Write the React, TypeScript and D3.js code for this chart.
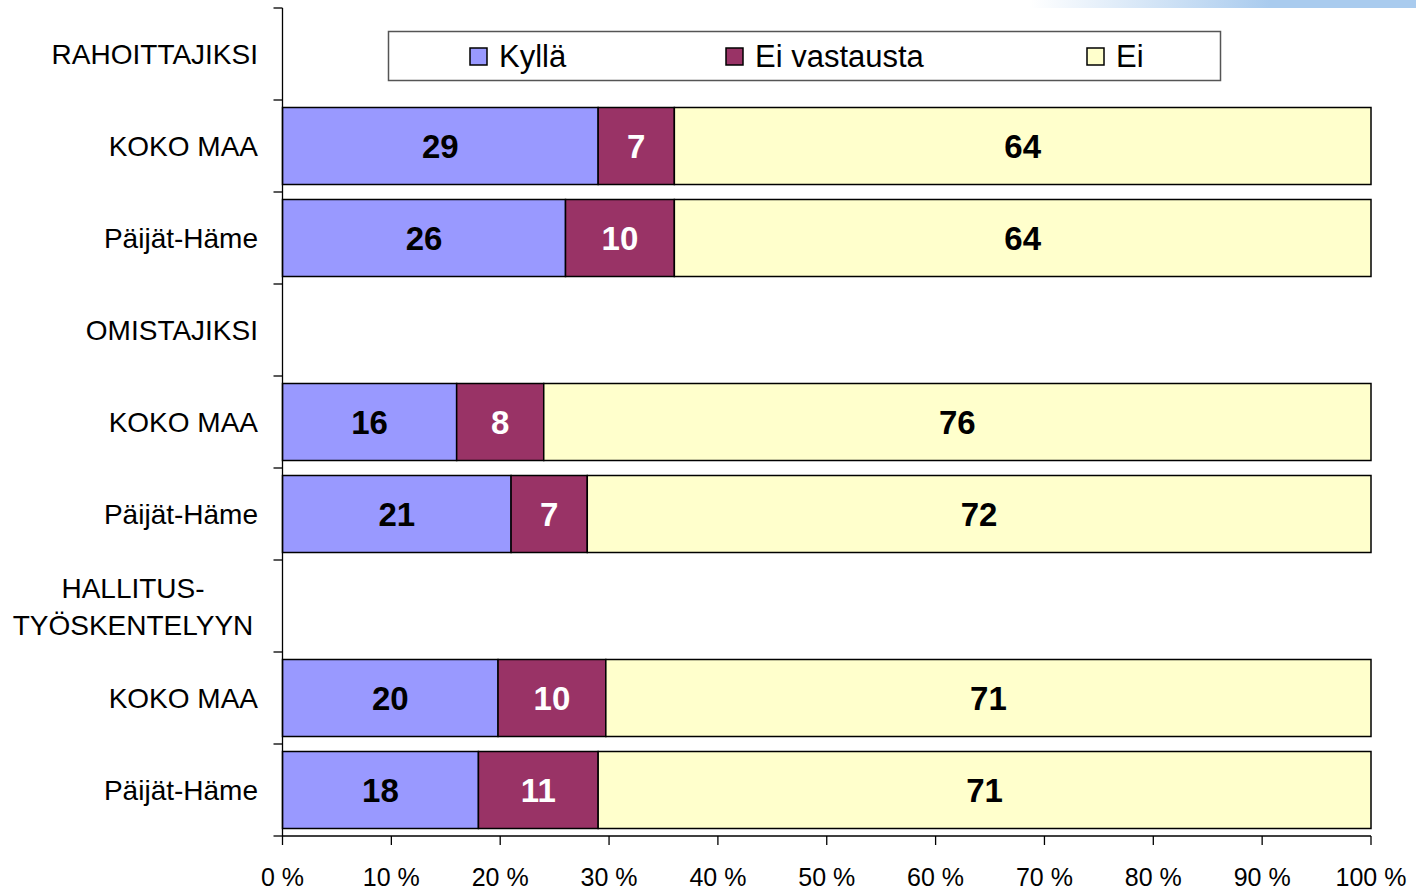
import { useRef, useEffect } from 'react';
import * as d3 from 'd3';

// rows top to bottom; header rows have no values
const rowLabels = [
    'RAHOITTAJIKSI', 'KOKO MAA', 'Päijät-Häme',
    'OMISTAJIKSI', 'KOKO MAA', 'Päijät-Häme',
    'HALLITUS-\nTYÖSKENTELYYN', 'KOKO MAA', 'Päijät-Häme',
];
const isHeader = [true, false, false, true, false, false, true, false, false];

const seriesNames = ['Kyllä', 'Ei vastausta', 'Ei'];
const kylla = [0, 29, 26, 0, 16, 21, 0, 20, 18];
const eiVastausta = [0, 7, 10, 0, 8, 7, 0, 10, 11];
const ei = [0, 64, 64, 0, 76, 72, 0, 71, 71];

const xTicks = [0, 10, 20, 30, 40, 50, 60, 70, 80, 90, 100];

const colors = ['#9999ff', '#993366', '#ffffcc'];
const labelColors = ['#000', '#fff', '#000'];

export default function App() {
    const svgRef = useRef<SVGSVGElement>(null);

    useEffect(() => {
        if (!svgRef.current) return;
        document.body.style.margin = '0';

        const width = 1416;
        const height = 890;
        const left = 282.5;
        const right = 1371;
        const top = 8;
        const bottom = 836;

        const svg = d3.select(svgRef.current);
        svg.selectAll('*').remove();
        svg.attr('width', width).attr('height', height);

        // faint gradient strip at top right
        const defs = svg.append('defs');
        const grad = defs.append('linearGradient')
            .attr('id', 'top-strip')
            .attr('gradientUnits', 'userSpaceOnUse')
            .attr('x1', 1030).attr('x2', 1270).attr('y1', 0).attr('y2', 0);
        grad.append('stop').attr('offset', '0%').attr('stop-color', '#ffffff');
        grad.append('stop').attr('offset', '100%').attr('stop-color', '#a9cbee');
        svg.append('rect')
            .attr('x', 1000).attr('y', 0)
            .attr('width', 416).attr('height', 8)
            .attr('fill', 'url(#top-strip)');

        const idx = rowLabels.map((_, i) => String(i));
        const y = d3.scaleBand()
            .domain(idx)
            .range([top, bottom])
            .paddingInner(0.163)
            .paddingOuter(0.0815);

        const x = d3.scaleLinear().domain([0, 100]).range([left, right]);

        const series = [kylla, eiVastausta, ei];
        const rows = idx.map((k, i) => {
            const vals = series.map(s => s[i]);
            const total = d3.sum(vals);
            let acc = 0;
            const segs = vals.map((v, j) => {
                const x0 = total ? acc / total * 100 : 0;
                acc += v;
                const x1 = total ? acc / total * 100 : 0;
                return { key: k, j, v, x0, x1 };
            });
            return { key: k, header: isHeader[i], segs };
        }).filter(r => !r.header);

        const g = svg.append('g');

        rows.forEach(r => {
            const y0 = y(r.key) ?? 0;
            const bw = y.bandwidth();
            const sg = g.append('g');
            sg.selectAll('rect')
                .data(r.segs)
                .enter()
                .append('rect')
                .attr('x', d => x(d.x0))
                .attr('y', y0)
                .attr('width', d => x(d.x1) - x(d.x0))
                .attr('height', bw)
                .attr('fill', d => colors[d.j])
                .attr('stroke', '#000')
                .attr('stroke-width', 1.5);

            sg.selectAll('text')
                .data(r.segs)
                .enter()
                .append('text')
                .attr('x', d => (x(d.x0) + x(d.x1)) / 2)
                .attr('y', y0 + bw / 2 + 12)
                .attr('text-anchor', 'middle')
                .attr('font-family', 'Liberation Sans, Arial, sans-serif')
                .attr('font-size', '33px')
                .attr('font-weight', 'bold')
                .attr('fill', d => labelColors[d.j])
                .text(d => d.v);
        });

        // Y axis
        g.append('line')
            .attr('x1', left).attr('x2', left)
            .attr('y1', top).attr('y2', bottom)
            .attr('stroke', '#000').attr('stroke-width', 1.3);
        const yBounds = idx.map(k => (y(k) ?? 0) - y.step() * y.paddingInner() / 2).concat([bottom]);
        yBounds[0] = top;
        g.selectAll('line.ytick')
            .data(yBounds)
            .enter()
            .append('line')
            .attr('class', 'ytick')
            .attr('x1', left - 9).attr('x2', left)
            .attr('y1', d => d).attr('y2', d => d)
            .attr('stroke', '#000').attr('stroke-width', 1.3);

        // category labels
        idx.forEach((k, i) => {
            const cy = (y(k) ?? 0) + y.bandwidth() / 2;
            const lines = rowLabels[i].split('\n');
            const multi = lines.length > 1;
            const t = g.append('text')
                .attr('font-family', 'Liberation Sans, Arial, sans-serif')
                .attr('font-size', '28px')
                .attr('fill', '#000')
                .attr('text-anchor', multi ? 'middle' : 'end');
            lines.forEach((ln, li) => {
                t.append('tspan')
                    .attr('x', multi ? 133 : 258)
                    .attr('y', cy + 10 + (li - (lines.length - 1) / 2) * 37)
                    .text(ln);
            });
        });

        // X axis
        g.append('line')
            .attr('x1', left).attr('x2', right)
            .attr('y1', bottom).attr('y2', bottom)
            .attr('stroke', '#000').attr('stroke-width', 1.3);
        g.selectAll('line.xtick')
            .data(xTicks)
            .enter()
            .append('line')
            .attr('class', 'xtick')
            .attr('x1', d => x(d)).attr('x2', d => x(d))
            .attr('y1', bottom).attr('y2', bottom + 9)
            .attr('stroke', '#000').attr('stroke-width', 1.3);
        g.selectAll('text.xlabel')
            .data(xTicks)
            .enter()
            .append('text')
            .attr('class', 'xlabel')
            .attr('x', d => x(d))
            .attr('y', 886)
            .attr('text-anchor', 'middle')
            .attr('font-family', 'Liberation Sans, Arial, sans-serif')
            .attr('font-size', '25px')
            .attr('fill', '#000')
            .text(d => `${d} %`);

        // Legend
        const lg = svg.append('g');
        lg.append('rect')
            .attr('x', 388.5).attr('y', 31.5)
            .attr('width', 832).attr('height', 49)
            .attr('fill', '#fff')
            .attr('stroke', '#555')
            .attr('stroke-width', 1.5);
        const legendX = [470, 726, 1087];
        seriesNames.forEach((name, i) => {
            lg.append('rect')
                .attr('x', legendX[i]).attr('y', 48)
                .attr('width', 17).attr('height', 17)
                .attr('fill', colors[i])
                .attr('stroke', '#000')
                .attr('stroke-width', 1.5);
            lg.append('text')
                .attr('x', legendX[i] + 29)
                .attr('y', 67)
                .attr('font-family', 'Liberation Sans, Arial, sans-serif')
                .attr('font-size', '31px')
                .attr('fill', '#000')
                .text(name);
        });
    }, []);

    return <svg ref={svgRef} style={{ display: 'block' }} />;
}
